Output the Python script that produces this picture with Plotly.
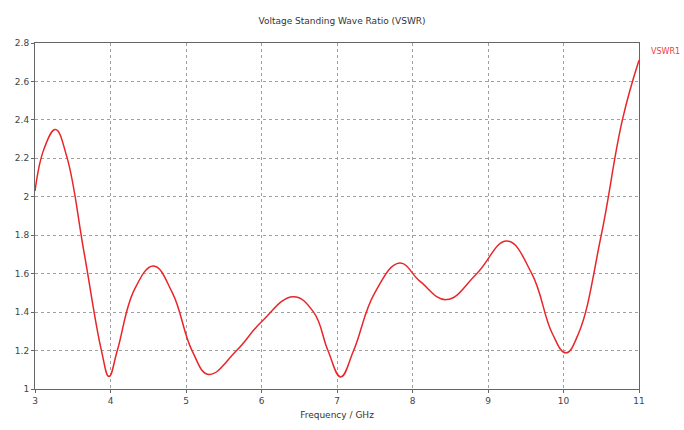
import plotly.graph_objects as go

freq_ghz = [3.0, 3.12, 3.27, 3.42, 3.65, 3.88, 3.98,
            4.09, 4.32, 4.57, 4.82, 5.08, 5.30,
            5.67, 6.0, 6.42, 6.69, 6.88, 7.05,
            7.22, 7.50, 7.83, 8.10, 8.45, 8.85, 9.25,
            9.58, 9.85, 10.03, 10.20, 10.50, 10.78, 11.0]
vswr = [2.03, 2.25, 2.35, 2.21, 1.71, 1.2, 1.065,
        1.2, 1.52, 1.64, 1.5, 1.2, 1.076,
        1.2, 1.35, 1.48, 1.4, 1.2, 1.063,
        1.2, 1.5, 1.655, 1.56, 1.465, 1.6, 1.77,
        1.6, 1.29, 1.188, 1.29, 1.8, 2.4, 2.71]

x_ticks = [3, 4, 5, 6, 7, 8, 9, 10, 11]
y_ticks = [1, 1.2, 1.4, 1.6, 1.8, 2, 2.2, 2.4, 2.6, 2.8]
y_tick_labels = ["1", "1.2", "1.4", "1.6", "1.8", "2", "2.2", "2.4", "2.6", "2.8"]

fig = go.Figure()
fig.add_trace(go.Scatter(
    x=freq_ghz, y=vswr, mode="lines", name="VSWR1",
    line=dict(color="#e8262a", width=1.5, shape="spline", smoothing=1.2),
    showlegend=False,
))

fig.add_annotation(
    text="VSWR1", xref="paper", yref="paper", x=1.017, y=0.975,
    xanchor="left", yanchor="middle", showarrow=False,
    font=dict(color="#f03a3a", size=8, family="DejaVu Sans"),
)

axis_common = dict(
    showline=True, linecolor="#666666", linewidth=1, mirror=True,
    ticks="outside", ticklen=3, tickcolor="#666666",
    showgrid=True, gridcolor="#a0a0a0", griddash="dot", gridwidth=1,
    zeroline=False,
    tickfont=dict(size=9, color="#444444", family="DejaVu Sans"),
)

fig.update_layout(
    width=684, height=430,
    margin=dict(l=35, r=45, t=43, b=37),
    paper_bgcolor="white", plot_bgcolor="white",
    title=dict(text="Voltage Standing Wave Ratio (VSWR)", x=0.5, xanchor="center",
               y=0.952, yanchor="middle",
               font=dict(size=9, color="#333333", family="DejaVu Sans")),
    xaxis=dict(range=[3, 11], tickvals=x_ticks,
               title=dict(text="Frequency / GHz", standoff=6,
                          font=dict(size=9, color="#333333", family="DejaVu Sans")),
               **axis_common),
    yaxis=dict(range=[1, 2.8], tickvals=y_ticks, ticktext=y_tick_labels,
               **axis_common),
)

fig.write_html("out.html")
